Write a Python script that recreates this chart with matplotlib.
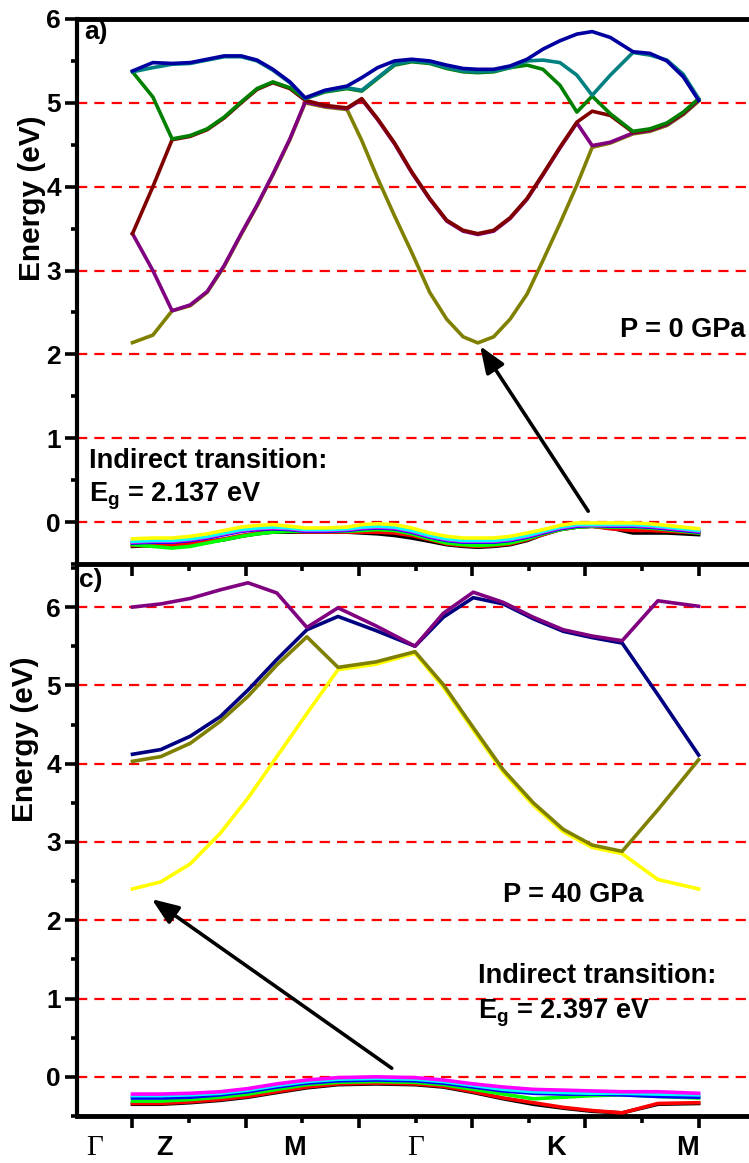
import matplotlib
matplotlib.use("Agg")
import matplotlib.pyplot as plt
from matplotlib.ticker import MultipleLocator

plt.rcParams['font.family'] = ['Liberation Sans', 'DejaVu Sans']
plt.rcParams['font.weight'] = 'bold'
plt.rcParams['mathtext.fontset'] = 'custom'
plt.rcParams['mathtext.rm'] = 'Liberation Sans:bold'
plt.rcParams['mathtext.default'] = 'rm'

# ---- k-path positions (in tick units) ----
k_a = [0.00, 0.36, 0.70, 1.02, 1.32, 1.62, 1.92, 2.20, 2.48, 2.78, 3.05, 3.40,
       3.79, 4.05, 4.33, 4.63, 4.93, 5.25, 5.55, 5.84, 6.10, 6.38, 6.67, 6.97,
       7.25, 7.55, 7.85, 8.12, 8.44, 8.84, 9.14, 9.44, 9.73, 10.00]
k_c = [0.00, 0.50, 1.02, 1.55, 2.04, 2.55, 3.08, 3.63, 4.30, 4.99, 5.49, 6.02,
       6.55, 7.08, 7.61, 8.12, 8.65, 9.28, 10.00]

# ---- P = 0 GPa, conduction bands ----
olive_a = [2.14, 2.23, 2.52, 2.58, 2.74, 3.05, 3.43, 3.77, 4.14, 4.56, 5.00, 4.95,
           4.92, 4.55, 4.10, 3.65, 3.22, 2.74, 2.42, 2.21, 2.137, 2.21, 2.42, 2.72,
           3.12, 3.56, 4.02, 4.47, 4.52, 4.63, 4.66, 4.73, 4.86, 5.02]
purple_a = [3.44, 3.00, 2.52, 2.59, 2.75, 3.06, 3.44, 3.78, 4.15, 4.57, 5.01, 4.96,
            4.93, 5.04, 4.80, 4.51, 4.17, 3.85, 3.59, 3.47, 3.43, 3.47, 3.62, 3.85,
            4.14, 4.46, 4.76, 4.49, 4.53, 4.64, 4.67, 4.74, 4.87, 5.03]
maroon_a = [3.44, 4.00, 4.56, 4.60, 4.68, 4.82, 5.00, 5.16, 5.24, 5.17, 5.03, 4.97,
            4.94, 5.05, 4.81, 4.52, 4.18, 3.86, 3.60, 3.48, 3.44, 3.48, 3.63, 3.86,
            4.15, 4.47, 4.77, 4.90, 4.85, 4.65, 4.68, 4.75, 4.88, 5.04]
green_a = [5.37, 5.07, 4.57, 4.61, 4.69, 4.83, 5.01, 5.17, 5.25, 5.18, 5.05, 5.13,
           5.17, 5.14, 5.29, 5.45, 5.49, 5.47, 5.41, 5.37, 5.36, 5.37, 5.42, 5.45,
           5.40, 5.21, 4.89, 5.08, 4.87, 4.66, 4.69, 4.76, 4.89, 5.05]
teal_a = [5.37, 5.42, 5.46, 5.47, 5.51, 5.55, 5.55, 5.50, 5.39, 5.24, 5.05, 5.14,
          5.18, 5.15, 5.30, 5.46, 5.50, 5.48, 5.42, 5.38, 5.37, 5.38, 5.42, 5.50,
          5.51, 5.48, 5.33, 5.09, 5.33, 5.60, 5.57, 5.51, 5.34, 5.05]
blue_a = [5.38, 5.48, 5.47, 5.48, 5.52, 5.56, 5.56, 5.51, 5.40, 5.25, 5.06, 5.15,
          5.20, 5.30, 5.42, 5.50, 5.52, 5.50, 5.45, 5.41, 5.40, 5.40, 5.44, 5.52,
          5.64, 5.74, 5.82, 5.85, 5.78, 5.61, 5.59, 5.50, 5.31, 5.03]

# ---- P = 0 GPa, valence bands ----
vb_black_a = [-0.29, -0.28, -0.28, -0.26, -0.24, -0.21, -0.17, -0.14, -0.12, -0.12, -0.12, -0.12,
              -0.12, -0.13, -0.14, -0.16, -0.19, -0.23, -0.27, -0.29, -0.30, -0.29, -0.27, -0.22,
              -0.15, -0.09, -0.06, -0.05, -0.07, -0.13, -0.13, -0.13, -0.14, -0.15]
vb_red_a = [-0.28, -0.28, -0.27, -0.26, -0.23, -0.20, -0.16, -0.13, -0.11, -0.11, -0.12, -0.12,
            -0.12, -0.12, -0.12, -0.13, -0.16, -0.21, -0.26, -0.28, -0.29, -0.28, -0.26, -0.21,
            -0.15, -0.09, -0.06, -0.05, -0.08, -0.10, -0.10, -0.11, -0.12, -0.13]
vb_green_a = [-0.27, -0.29, -0.31, -0.29, -0.25, -0.21, -0.17, -0.14, -0.12, -0.11, -0.11, -0.11,
              -0.11, -0.10, -0.09, -0.10, -0.14, -0.20, -0.25, -0.27, -0.28, -0.27, -0.25, -0.20,
              -0.14, -0.09, -0.06, -0.05, -0.06, -0.06, -0.07, -0.09, -0.11, -0.13]
vb_blue_a = [-0.25, -0.24, -0.24, -0.22, -0.19, -0.15, -0.11, -0.09, -0.08, -0.09, -0.11, -0.11,
             -0.10, -0.08, -0.07, -0.08, -0.12, -0.18, -0.22, -0.24, -0.24, -0.24, -0.22, -0.18,
             -0.13, -0.08, -0.05, -0.04, -0.05, -0.05, -0.06, -0.08, -0.10, -0.12]
vb_magenta_a = [-0.24, -0.23, -0.23, -0.21, -0.18, -0.14, -0.10, -0.08, -0.07, -0.08, -0.10, -0.10,
                -0.09, -0.07, -0.06, -0.07, -0.11, -0.17, -0.21, -0.23, -0.23, -0.23, -0.21, -0.17,
                -0.12, -0.07, -0.04, -0.04, -0.04, -0.04, -0.05, -0.07, -0.09, -0.11]
vb_cyan_a = [-0.23, -0.22, -0.22, -0.20, -0.17, -0.13, -0.09, -0.07, -0.06, -0.07, -0.09, -0.09,
             -0.08, -0.06, -0.05, -0.06, -0.10, -0.16, -0.20, -0.22, -0.22, -0.22, -0.20, -0.16,
             -0.11, -0.06, -0.03, -0.03, -0.03, -0.03, -0.04, -0.06, -0.08, -0.10]
vb_yellow_a = [-0.20, -0.19, -0.19, -0.17, -0.14, -0.10, -0.06, -0.04, -0.03, -0.05, -0.07, -0.07,
               -0.06, -0.03, -0.02, -0.03, -0.07, -0.13, -0.17, -0.19, -0.19, -0.19, -0.17, -0.13,
               -0.09, -0.04, -0.01, -0.01, -0.01, -0.01, -0.02, -0.04, -0.06, -0.08]

# ---- P = 40 GPa, conduction bands ----
yellow_c = [2.40, 2.49, 2.72, 3.11, 3.56, 4.09, 4.64, 5.20, 5.27, 5.41, 4.98, 4.43,
            3.89, 3.47, 3.13, 2.93, 2.85, 2.52, 2.40]
olive_c = [4.03, 4.09, 4.26, 4.54, 4.86, 5.26, 5.62, 5.23, 5.30, 5.43, 5.01, 4.46,
           3.92, 3.50, 3.16, 2.96, 2.88, 3.41, 4.05]
navy_c = [4.12, 4.18, 4.35, 4.60, 4.94, 5.33, 5.71, 5.88, 5.70, 5.50, 5.87, 6.12,
          6.04, 5.85, 5.69, 5.61, 5.54, 4.88, 4.11]
purple_c = [6.00, 6.04, 6.11, 6.22, 6.31, 6.18, 5.74, 5.99, 5.76, 5.50, 5.92, 6.19,
            6.06, 5.87, 5.71, 5.63, 5.57, 6.08, 6.01]

# ---- P = 40 GPa, valence bands ----
vb_black_c = [-0.35, -0.35, -0.33, -0.30, -0.26, -0.20, -0.14, -0.10, -0.09, -0.10, -0.13, -0.20,
              -0.28, -0.35, -0.40, -0.44, -0.46, -0.35, -0.34]
vb_red_c = [-0.34, -0.34, -0.32, -0.29, -0.25, -0.19, -0.13, -0.09, -0.08, -0.09, -0.12, -0.19,
            -0.27, -0.33, -0.39, -0.43, -0.46, -0.34, -0.33]
vb_green_c = [-0.31, -0.31, -0.29, -0.26, -0.22, -0.16, -0.10, -0.07, -0.06, -0.07, -0.10, -0.16,
              -0.22, -0.28, -0.26, -0.24, -0.23, -0.25, -0.27]
vb_blue_c = [-0.27, -0.27, -0.26, -0.23, -0.19, -0.13, -0.08, -0.05, -0.04, -0.05, -0.08, -0.13,
             -0.18, -0.21, -0.22, -0.22, -0.23, -0.25, -0.26]
vb_cyan_c = [-0.24, -0.24, -0.23, -0.21, -0.17, -0.11, -0.06, -0.03, -0.02, -0.03, -0.06, -0.11,
             -0.16, -0.19, -0.20, -0.21, -0.21, -0.22, -0.23]
vb_magenta_c = [-0.22, -0.22, -0.21, -0.19, -0.15, -0.09, -0.04, -0.01, 0.00, -0.01, -0.04, -0.09,
                -0.13, -0.16, -0.17, -0.18, -0.19, -0.19, -0.21]

kpoint_labels = ['Γ', 'Z', 'M', 'Γ', 'K', 'M']
kpoint_label_x = [-0.66, 0.56, 2.87, 5.01, 7.48, 9.80]

eg_a = 2.137
eg_c = 2.397

LW = 2.6
XLIM = (-0.98, 10.89)

fig = plt.figure(figsize=(7.49, 11.63), dpi=100)
W, H = 749.0, 1163.0
ax1 = fig.add_axes([77 / W, 1 - 564 / H, 1 - 77 / W, (564 - 19) / H])
ax2 = fig.add_axes([77 / W, 1 - 1116 / H, 1 - 77 / W, (1116 - 564) / H])
# lower panel has no background of its own, so the upper panel's x ticks stay visible
ax2.patch.set_visible(False)


def style_axes(ax, ylim, dashed):
    ax.set_xlim(*XLIM)
    ax.set_ylim(*ylim)
    for y in dashed:
        ax.axhline(y, color='#ff0000', lw=1.6, dashes=(4.6, 3.2), zorder=1)
    ax.spines['right'].set_visible(False)
    ax.spines['left'].set_linewidth(3.0)
    ax.spines['top'].set_linewidth(3.5)
    ax.spines['bottom'].set_linewidth(3.5)
    ax.set_yticks(range(0, 7))
    ax.yaxis.set_minor_locator(MultipleLocator(0.5))
    ax.set_xticks(range(0, 11, 2))
    ax.set_xticks(range(1, 11, 2), minor=True)
    ax.tick_params(axis='y', which='major', direction='out', length=8.5, width=2.6,
                   labelsize=19, pad=3, right=False)
    ax.tick_params(axis='y', which='minor', direction='out', length=4.5, width=2.6, right=False)
    ax.tick_params(axis='x', which='major', direction='out', length=8.5, width=2.6,
                   labelbottom=False, top=False)
    ax.tick_params(axis='x', which='minor', direction='out', length=5, width=2.6,
                   labelbottom=False, top=False)


style_axes(ax1, (-0.5, 6.0), range(0, 6))
style_axes(ax2, (-0.5, 6.55), range(0, 7))
ax2.spines['top'].set_visible(False)

# P = 0 GPa bands
for vals, col in [(vb_black_a, 'black'), (vb_red_a, '#ff0000'), (vb_green_a, '#00ff00'),
                  (vb_blue_a, '#0000ff'), (vb_magenta_a, '#ff00ff'), (vb_cyan_a, '#00ffff'),
                  (vb_yellow_a, '#ffff00')]:
    ax1.plot(k_a, vals, color=col, lw=LW, zorder=3, solid_joinstyle='round')
for vals, col in [(olive_a, '#808000'), (purple_a, '#800080'), (maroon_a, '#800000'),
                  (green_a, '#008000'), (teal_a, '#008080'), (blue_a, '#0000a0')]:
    ax1.plot(k_a, vals, color=col, lw=LW, zorder=3, solid_joinstyle='round')

# P = 40 GPa bands
for vals, col in [(vb_black_c, 'black'), (vb_red_c, '#ff0000'), (vb_green_c, '#00ff00'),
                  (vb_blue_c, '#0000ff'), (vb_cyan_c, '#00ffff'), (vb_magenta_c, '#ff00ff')]:
    ax2.plot(k_c, vals, color=col, lw=LW, zorder=3, solid_joinstyle='round')
for vals, col in [(yellow_c, '#ffff00'), (olive_c, '#808000'), (navy_c, '#000080'),
                  (purple_c, '#800080')]:
    ax2.plot(k_c, vals, color=col, lw=LW, zorder=3, solid_joinstyle='round')

# indirect-gap arrows: valence top -> conduction minimum
arrow = dict(arrowstyle='-|>,head_length=0.9,head_width=0.35', color='black', lw=2.6,
             mutation_scale=18, shrinkA=0, shrinkB=0)
ax1.annotate('', xy=(6.14, 2.10), xytext=(8.05, 0.13), arrowprops=arrow, zorder=5)
ax2.annotate('', xy=(0.34, 2.27), xytext=(4.58, 0.11), arrowprops=arrow, zorder=5)

txt = dict(fontsize=19.5, fontweight='bold', ha='left', va='baseline')
ax1.text(-0.86, 5.76, 'a)', fontsize=19, fontweight='bold')
ax1.text(8.61, 2.21, 'P = 0 GPa', **txt)
ax1.text(-0.77, 0.64, 'Indirect transition:', **txt)
ax1.text(-0.77, 0.24, 'E$_{g}$ = %.3f eV' % eg_a, **txt)

ax2.text(-0.94, 6.25, 'c)', fontsize=19, fontweight='bold')
ax2.text(6.55, 2.23, 'P = 40 GPa', **txt)
ax2.text(6.10, 1.20, 'Indirect transition:', **txt)
ax2.text(6.10, 0.75, 'E$_{g}$ = %.3f eV' % eg_c, **txt)

ax1.text(-0.067, 0.671, 'Energy (eV)', transform=ax1.transAxes, rotation=90,
         fontsize=21.5, fontweight='bold', ha='center', va='center')
ax2.text(-0.077, 0.683, 'Energy (eV)', transform=ax2.transAxes, rotation=90,
         fontsize=21.5, fontweight='bold', ha='center', va='center')

for lab, x in zip(kpoint_labels, kpoint_label_x):
    if lab == 'Γ':
        ax2.text(x, -0.0707, lab, transform=ax2.get_xaxis_transform(), ha='center',
                 va='baseline', fontsize=21, fontweight='normal', family='Liberation Serif')
    else:
        ax2.text(x, -0.0707, lab, transform=ax2.get_xaxis_transform(), ha='center',
                 va='baseline', fontsize=19.5, fontweight='bold')

fig.savefig('out.png', dpi=100)
